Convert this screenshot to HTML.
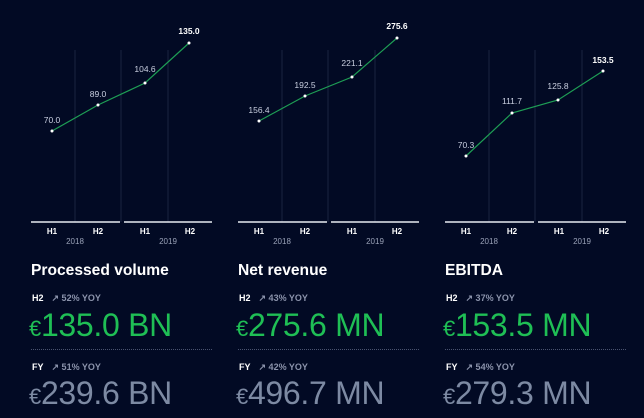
<!DOCTYPE html>
<html><head><meta charset="utf-8"><style>
body{margin:0;width:644px;height:418px;background:#020a24;overflow:hidden;font-family:"Liberation Sans",sans-serif;position:relative}
.t{position:absolute;top:262px;font-size:15.6px;font-weight:bold;color:#fff;white-space:nowrap}
.r{position:absolute;font-size:9px;font-weight:bold;color:#fff;white-space:nowrap}
.r span{color:#8b93ab;margin-left:8px;font-weight:bold}
.g{position:absolute;top:307px;font-size:32px;color:#1fbf55;white-space:nowrap;letter-spacing:-0.3px}
.f{position:absolute;top:375px;font-size:32px;color:#7d8aa3;white-space:nowrap;letter-spacing:-0.3px}
.e{font-size:22px}
.d{position:absolute;top:349px;width:181px;border-top:1px dotted #4a5370}
</style></head><body>
<svg width="644" height="250" style="position:absolute;left:0;top:0" font-family="Liberation Sans, sans-serif">
<g id="c1">
<g stroke="#1b2440" stroke-width="1"><line x1="75" y1="50" x2="75" y2="222"/><line x1="121" y1="50" x2="121" y2="222"/><line x1="168" y1="50" x2="168" y2="222"/></g>
<g stroke="#e8ebf2" stroke-width="1.5"><line x1="31" y1="222" x2="120" y2="222"/><line x1="124" y1="222" x2="212" y2="222"/></g>
<g font-size="8" font-weight="bold" fill="#fff" text-anchor="middle"><text x="52" y="234">H1</text><text x="98" y="234">H2</text><text x="145" y="234">H1</text><text x="190" y="234">H2</text></g>
<g font-size="8" fill="#9aa2b8" text-anchor="middle"><text x="75" y="244">2018</text><text x="168" y="244">2019</text></g>
</g>
<use href="#c1" x="207"/><use href="#c1" x="414"/>
<g fill="none" stroke="#1e9e55" stroke-width="1.2">
<polyline points="52,131 98,105 145,83 189,43"/>
<polyline points="259,121 305,96 352,77 397,38"/>
<polyline points="466,156 512,113 558,100 603,71"/>
</g>
<g fill="#fff">
<circle cx="52" cy="131" r="1.5"/><circle cx="98" cy="105" r="1.5"/><circle cx="145" cy="83" r="1.5"/><circle cx="189" cy="43" r="1.5"/>
<circle cx="259" cy="121" r="1.5"/><circle cx="305" cy="96" r="1.5"/><circle cx="352" cy="77" r="1.5"/><circle cx="397" cy="38" r="1.5"/>
<circle cx="466" cy="156" r="1.5"/><circle cx="512" cy="113" r="1.5"/><circle cx="558" cy="100" r="1.5"/><circle cx="603" cy="71" r="1.5"/>
</g>
<g font-size="8.5" fill="#c9cfe0" text-anchor="middle">
<text x="52" y="123">70.0</text><text x="98" y="97">89.0</text><text x="145" y="72">104.6</text>
<text x="259" y="113">156.4</text><text x="305" y="88">192.5</text><text x="352" y="66">221.1</text>
<text x="466" y="148">70.3</text><text x="512" y="104">111.7</text><text x="558" y="89">125.8</text>
</g>
<g font-size="8.5" font-weight="bold" fill="#fff" text-anchor="middle">
<text x="189" y="34">135.0</text><text x="397" y="29">275.6</text><text x="603" y="63">153.5</text>
</g>
</svg>

<div class="t" style="left:31px">Processed volume</div>
<div class="r" style="left:32px;top:293px">H2<span>↗ 52% YOY</span></div>
<div class="g" style="left:29px"><span class="e">€</span>135.0 BN</div>
<div class="d" style="left:31px"></div>
<div class="r" style="left:32px;top:362px">FY<span>↗ 51% YOY</span></div>
<div class="f" style="left:29px"><span class="e">€</span>239.6 BN</div>

<div class="t" style="left:238px">Net revenue</div>
<div class="r" style="left:239px;top:293px">H2<span>↗ 43% YOY</span></div>
<div class="g" style="left:236px"><span class="e">€</span>275.6 MN</div>
<div class="d" style="left:238px"></div>
<div class="r" style="left:239px;top:362px">FY<span>↗ 42% YOY</span></div>
<div class="f" style="left:236px"><span class="e">€</span>496.7 MN</div>

<div class="t" style="left:445px">EBITDA</div>
<div class="r" style="left:446px;top:293px">H2<span>↗ 37% YOY</span></div>
<div class="g" style="left:443px"><span class="e">€</span>153.5 MN</div>
<div class="d" style="left:445px"></div>
<div class="r" style="left:446px;top:362px">FY<span>↗ 54% YOY</span></div>
<div class="f" style="left:443px"><span class="e">€</span>279.3 MN</div>
</body></html>
